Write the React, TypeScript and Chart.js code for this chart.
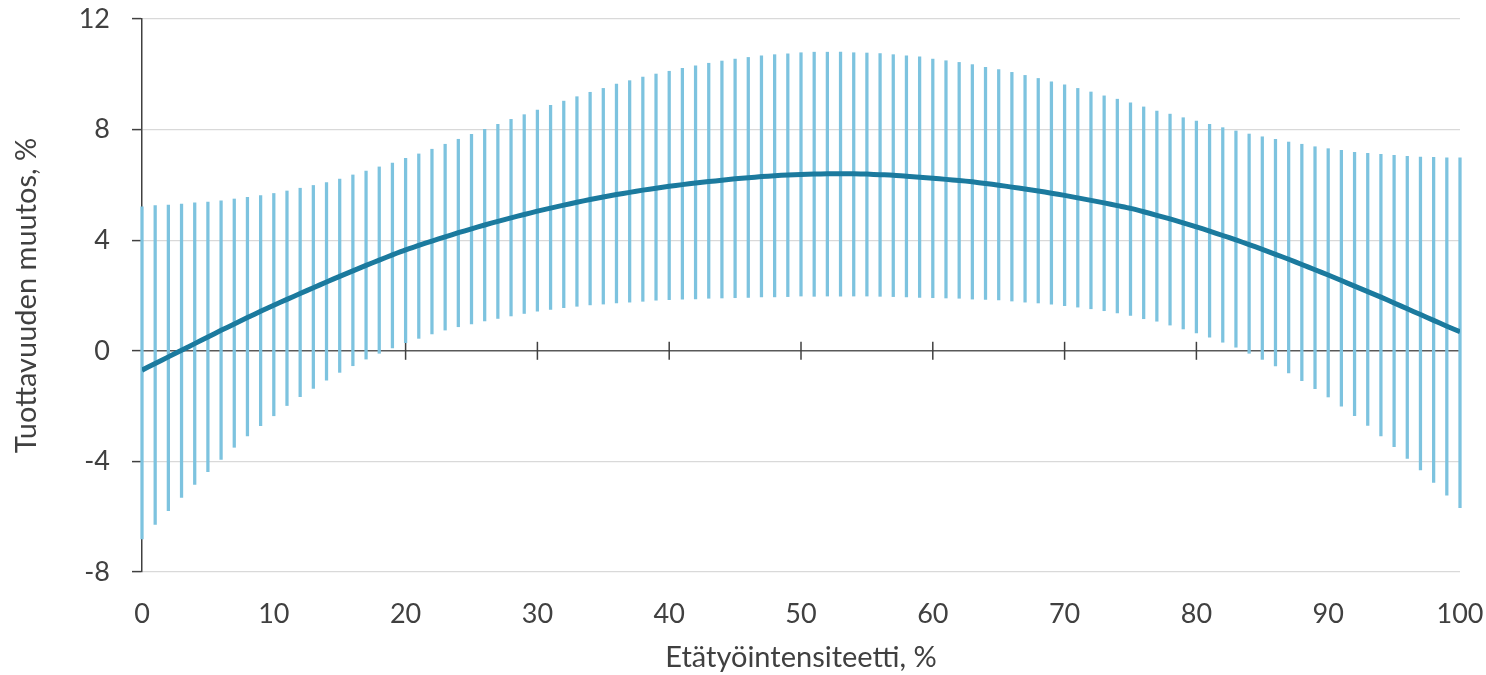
import React, { useEffect, useRef } from 'react';
import { Chart, registerables } from 'chart.js';

Chart.register(...registerables);

const intensity = [
  0, 1, 2, 3, 4, 5, 6, 7, 8, 9, 10, 11, 12, 13, 14, 15, 16, 17, 18, 19, 20,
  21, 22, 23, 24, 25, 26, 27, 28, 29, 30, 31, 32, 33, 34, 35, 36, 37, 38, 39, 40,
  41, 42, 43, 44, 45, 46, 47, 48, 49, 50, 51, 52, 53, 54, 55, 56, 57, 58, 59, 60,
  61, 62, 63, 64, 65, 66, 67, 68, 69, 70, 71, 72, 73, 74, 75, 76, 77, 78, 79, 80,
  81, 82, 83, 84, 85, 86, 87, 88, 89, 90, 91, 92, 93, 94, 95, 96, 97, 98, 99, 100,
];

const estimate = [
  -0.7, -0.46, -0.22, 0.02, 0.26, 0.5, 0.74, 0.97, 1.2, 1.43, 1.65,
  1.86, 2.07, 2.28, 2.49, 2.69, 2.89, 3.09, 3.28, 3.47, 3.65,
  3.81, 3.97, 4.12, 4.27, 4.41, 4.55, 4.68, 4.81, 4.93, 5.05,
  5.16, 5.27, 5.37, 5.47, 5.56, 5.65, 5.73, 5.81, 5.88, 5.95,
  6.01, 6.07, 6.12, 6.17, 6.22, 6.26, 6.3, 6.33, 6.36, 6.38,
  6.39, 6.4, 6.4, 6.4, 6.39, 6.37, 6.35, 6.31, 6.28, 6.24,
  6.2, 6.16, 6.11, 6.05, 5.99, 5.92, 5.85, 5.78, 5.7, 5.62,
  5.53, 5.44, 5.35, 5.25, 5.15, 5.03, 4.9, 4.77, 4.63, 4.48,
  4.33, 4.17, 4.01, 3.84, 3.67, 3.49, 3.31, 3.12, 2.93, 2.74,
  2.54, 2.34, 2.14, 1.94, 1.73, 1.52, 1.31, 1.1, 0.89, 0.69,
];

const upper = [
  5.21, 5.25, 5.27, 5.31, 5.35, 5.38, 5.42, 5.49, 5.55, 5.61, 5.69,
  5.78, 5.88, 5.98, 6.08, 6.21, 6.36, 6.5, 6.65, 6.79, 6.96,
  7.12, 7.29, 7.47, 7.65, 7.83, 8.01, 8.19, 8.37, 8.54, 8.71,
  8.88, 9.03, 9.19, 9.35, 9.49, 9.65, 9.77, 9.9, 10.01, 10.11,
  10.22, 10.31, 10.4, 10.48, 10.55, 10.61, 10.67, 10.71, 10.74, 10.78,
  10.8, 10.8, 10.8, 10.78, 10.77, 10.75, 10.71, 10.67, 10.63, 10.55,
  10.49, 10.43, 10.35, 10.25, 10.17, 10.07, 9.96, 9.85, 9.73, 9.62,
  9.49, 9.36, 9.22, 9.1, 8.97, 8.82, 8.67, 8.56, 8.43, 8.31,
  8.19, 8.07, 7.95, 7.84, 7.74, 7.65, 7.55, 7.47, 7.38, 7.31,
  7.25, 7.18, 7.14, 7.11, 7.07, 7.03, 7.01, 7.0, 6.98, 6.98,
];

const lower = [
  -6.8, -6.28, -5.78, -5.3, -4.83, -4.37, -3.93, -3.49, -3.08, -2.71, -2.35,
  -1.98, -1.66, -1.36, -1.06, -0.78, -0.54, -0.3, -0.09, 0.1, 0.29,
  0.45, 0.61, 0.75, 0.87, 0.97, 1.08, 1.17, 1.26, 1.35, 1.43,
  1.5, 1.56, 1.61, 1.66, 1.69, 1.73, 1.76, 1.79, 1.83, 1.85,
  1.87, 1.88, 1.9, 1.91, 1.92, 1.93, 1.95, 1.95, 1.96, 1.98,
  1.97, 1.98, 1.98, 1.98, 1.98, 1.97, 1.96, 1.95, 1.93, 1.92,
  1.91, 1.9, 1.87, 1.86, 1.84, 1.8, 1.76, 1.73, 1.69, 1.63,
  1.58, 1.52, 1.45, 1.37, 1.28, 1.16, 1.07, 0.93, 0.79, 0.65,
  0.49, 0.31, 0.13, -0.09, -0.31, -0.55, -0.8, -1.08, -1.37, -1.67,
  -2.0, -2.35, -2.7, -3.08, -3.47, -3.89, -4.31, -4.76, -5.22, -5.67,
];

const xTickLabels = ['0', '10', '20', '30', '40', '50', '60', '70', '80', '90', '100'];
const yTickLabels = ['-8', '-4', '0', '4', '8', '12'];

const FONT = 'Lato, "Open Sans", sans-serif';
const TEXT = '#404040';

const zeroAxisPlugin = {
  id: 'zeroAxis',
  beforeDatasetsDraw(chart: any) {
    const { ctx, chartArea } = chart;
    const xs = chart.scales.x;
    const ys = chart.scales.y;
    const y0 = ys.getPixelForValue(0);
    ctx.save();
    ctx.strokeStyle = '#595959';
    ctx.lineWidth = 1.5;
    ctx.beginPath();
    ctx.moveTo(chartArea.left, y0);
    ctx.lineTo(chartArea.right, y0);
    ctx.stroke();
    ctx.strokeStyle = '#404040';
    xs.ticks.forEach((t: any) => {
      if (t.value === 0) return;
      const px = xs.getPixelForValue(t.value);
      ctx.beginPath();
      ctx.moveTo(px, y0 - 9);
      ctx.lineTo(px, y0 + 9);
      ctx.stroke();
    });
    ctx.restore();
  },
};

export default function App() {
  const ref = useRef<HTMLCanvasElement | null>(null);

  useEffect(() => {
    document.body.style.margin = '0';
    if (!ref.current) return;
    const chart = new Chart(ref.current, {
      type: 'bar',
      data: {
        datasets: [
          {
            type: 'line',
            label: 'Estimaatti',
            data: intensity.map((x, i) => ({ x, y: estimate[i] })),
            borderColor: '#1b7a9e',
            borderWidth: 5,
            pointRadius: 0,
            tension: 0.3,
            fill: false,
            order: 0,
          } as any,
          {
            type: 'bar',
            label: 'Luottamusväli',
            data: intensity.map((x, i) => ({ x, y: [lower[i], upper[i]] })),
            backgroundColor: '#7dc3df',
            borderWidth: 0,
            barThickness: 2.6,
            clip: false,
            order: 1,
          } as any,
        ],
      },
      options: {
        responsive: false,
        animation: false,
        devicePixelRatio: 1,
        layout: { padding: { left: 0, right: 26, top: 19, bottom: 0 } },
        plugins: {
          legend: { display: false },
          tooltip: { enabled: false },
        },
        scales: {
          x: {
            type: 'linear',
            min: 0,
            max: 100,
            offset: false,
            grid: { display: false, offset: false },
            border: { display: false },
            ticks: {
              stepSize: 10,
              padding: 18,
              color: TEXT,
              font: { family: FONT, size: 27 },
              callback: (v: any) => (xTickLabels.includes(String(v)) ? String(v) : ''),
            },
            title: {
              display: true,
              text: 'Etätyöintensiteetti, %',
              color: TEXT,
              font: { family: FONT, size: 29 },
              padding: { top: 0, bottom: 0 },
            },
            afterFit: (s: any) => {
              s.height = 103;
              s.paddingLeft = 0;
              s.paddingRight = 0;
            },
          },
          y: {
            min: -8,
            max: 12,
            grid: {
              color: (c: any) => (c.tick && c.tick.value === 0 ? 'rgba(0,0,0,0)' : '#d9d9d9'),
              lineWidth: 1.2,
              tickLength: 10,
              tickColor: '#404040',
              tickWidth: 1.5,
            },
            border: { display: true, color: '#404040', width: 1.5 },
            ticks: {
              stepSize: 4,
              padding: 22,
              color: TEXT,
              font: { family: FONT, size: 27 },
              callback: (v: any) => (yTickLabels.includes(String(v)) ? String(v) : ''),
            },
            title: {
              display: true,
              text: 'Tuottavuuden muutos, %',
              color: TEXT,
              font: { family: FONT, size: 29 },
              padding: { top: 9, bottom: 0 },
            },
            afterFit: (s: any) => {
              s.width = 142;
              s.paddingTop = 0;
              s.paddingBottom = 0;
            },
          },
        },
      },
      plugins: [zeroAxisPlugin],
    });
    return () => chart.destroy();
  }, []);

  return (
    <div style={{ width: 1486, height: 675 }}>
      <canvas ref={ref} width={1486} height={675} style={{ display: 'block' }} />
    </div>
  );
}
